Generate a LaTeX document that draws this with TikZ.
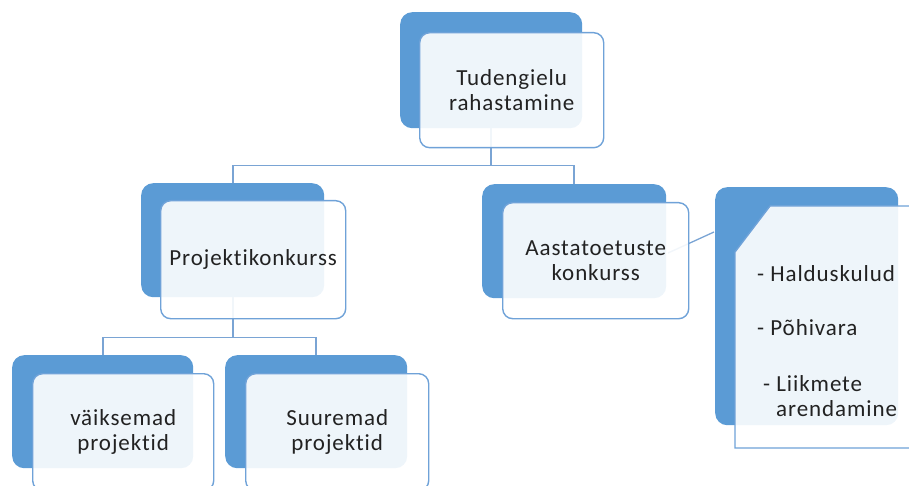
\documentclass[tikz,border=0pt]{standalone}
\usepackage{fontspec}
\setmainfont{Carlito}[Ligatures=NoCommon, LetterSpace=4]
\definecolor{accent}{HTML}{5B9BD5}
\definecolor{edgeblue}{HTML}{6FA2D8}
\definecolor{connblue}{HTML}{7AA4D4}
\definecolor{txt}{HTML}{222222}
\begin{document}
\begin{tikzpicture}[x=1pt,y=-1pt,
  backbox/.style={fill=accent, draw=none, rounded corners=12pt, inner sep=0pt, anchor=north west},
  frontbox/.style={fill=white, fill opacity=0.9, text opacity=1, draw=edgeblue, line width=1.4pt,
     rounded corners=10pt, inner sep=0pt, anchor=north west, text=txt, align=center,
     font=\fontsize{23}{25}\selectfont},
  conn/.style={draw=connblue, line width=1.6pt},
  listtxt/.style={text=txt, inner sep=0pt, anchor=base west, font=\fontsize{23}{25}\selectfont}]
\useasboundingbox (0,0) rectangle (909,486);
\clip (0,0) rectangle (909,486);
% back boxes
\node[backbox, minimum width=182pt, minimum height=116pt] (b1) at (400,12) {};
\node[backbox, minimum width=183pt, minimum height=114pt] (b2) at (141,183) {};
\node[backbox, minimum width=184pt, minimum height=114pt] (b3) at (482,184) {};
\node[backbox, minimum width=183pt, minimum height=238pt] (b4) at (715,187) {};
\node[backbox, minimum width=181pt, minimum height=113pt] (b5) at (12,355) {};
\node[backbox, minimum width=182pt, minimum height=113pt] (b6) at (225,355) {};
% connectors
\draw[conn] (b1.south) -- ++(0,37) -| (b2.north);
\draw[conn] (b1.south) -- ++(0,37) -| (b3.north);
\draw[conn] (b2.south) -- ++(0,40) -| (b5.north);
\draw[conn] (b2.south) -- ++(0,40) -| (b6.north);
\coordinate (c1) at (668,253);
\coordinate (c2) at (714,232);
\draw[conn, line width=1.3pt] (c1) -- (c2);
% front boxes
\node[frontbox, minimum width=184pt, minimum height=115pt] (f1) at (419,32) {Tudengielu\\rahastamine};
\node[frontbox, minimum width=185pt, minimum height=118pt] (f2) at (160,200) {Projektikonkurss};
\node[frontbox, minimum width=186pt, minimum height=116pt] (f3) at (502,202) {Aastatoetuste\\konkurss};
\node[frontbox, minimum width=181pt, minimum height=117pt] (f5) at (32,373) {väiksemad\\projektid};
\node[frontbox, minimum width=183pt, minimum height=117pt] (f6) at (245,373) {Suuremad\\projektid};
\path[fill=white, fill opacity=0.9, draw=edgeblue, line width=1.4pt]
  (735,252) -- (770,206) -- (918,206) -- (918,448) -- (735,448) -- cycle;
% list text
\node[listtxt] (t1) at (757,281) {- Halduskulud};
\node[listtxt] (t2) at (757,335) {- Põhivara};
\node[listtxt] (t3) at (763,391) {- Liikmete};
\node[listtxt] (t4) at (776,416) {arendamine};
\end{tikzpicture}
\end{document}
